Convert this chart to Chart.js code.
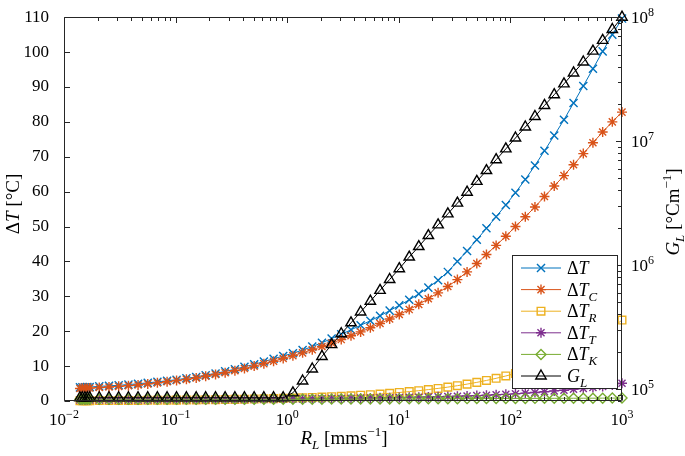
<!DOCTYPE html>
<html>
<head>
<meta charset="utf-8">
<script src="https://cdn.jsdelivr.net/npm/chart.js@4.4.1/dist/chart.umd.min.js"></script>
<style>
  html, body { margin: 0; padding: 0; background: #fff; }
  #wrap { width: 685px; height: 456px; }
</style>
</head>
<body>
<div id="wrap"><canvas id="myChart" width="685" height="456"></canvas></div>
<script>
// R_L [mm/s]
const rL = [0.0139, 0.0146, 0.0154, 0.0162, 0.0170, 0.0207, 0.0253, 0.0309, 0.0378, 0.0461,
  0.0563, 0.0687, 0.0839, 0.102, 0.125, 0.153, 0.186, 0.228, 0.278, 0.340,
  0.414, 0.506, 0.618, 0.755, 0.921, 1.125, 1.374, 1.677, 2.048, 2.50,
  3.05, 3.73, 4.55, 5.56, 6.79, 8.28, 10.1, 12.4, 15.1, 18.4,
  22.5, 27.5, 33.5, 40.9, 50.0, 61.0, 74.5, 91.0, 111, 136,
  166, 202, 247, 302, 368, 450, 549, 671, 819, 1000];

const dT = [3.9, 3.92, 3.95, 3.98, 4.0, 4.2, 4.35, 4.5, 4.7, 4.95,
  5.2, 5.5, 5.8, 6.1, 6.5, 6.9, 7.4, 7.9, 8.5, 9.1,
  9.8, 10.5, 11.3, 12.1, 12.9, 13.7, 14.6, 15.6, 16.7, 17.9,
  19.1, 20.4, 21.7, 23.0, 24.4, 25.9, 27.4, 29.0, 30.7, 32.5,
  34.6, 37.0, 40.0, 43.0, 46.2, 49.5, 52.8, 56.2, 59.7, 63.5,
  67.5, 71.7, 76.1, 80.6, 85.4, 90.3, 95.2, 100.2, 105.0, 109.6];

const dTC = [3.6, 3.62, 3.64, 3.67, 3.7, 3.85, 4.0, 4.2, 4.4, 4.6,
  4.9, 5.2, 5.5, 5.85, 6.2, 6.6, 7.1, 7.6, 8.1, 8.7,
  9.3, 10.0, 10.7, 11.4, 12.2, 13.0, 13.8, 14.7, 15.6, 16.6,
  17.6, 18.7, 19.8, 21.0, 22.2, 23.5, 24.8, 26.2, 27.7, 29.3,
  31.0, 32.8, 34.8, 37.0, 39.4, 42.0, 44.6, 47.2, 50.0, 52.8,
  55.6, 58.6, 61.6, 64.6, 67.7, 70.9, 74.0, 77.1, 80.0, 82.8];

const dTR = [0.096, 0.099, 0.101, 0.104, 0.106, 0.117, 0.129, 0.142, 0.157, 0.173,
  0.191, 0.211, 0.232, 0.256, 0.283, 0.312, 0.344, 0.379, 0.418, 0.461,
  0.509, 0.561, 0.619, 0.683, 0.753, 0.83, 0.92, 1.01, 1.11, 1.23,
  1.35, 1.49, 1.65, 1.82, 2.0, 2.21, 2.44, 2.69, 2.96, 3.27,
  3.61, 3.98, 4.39, 4.84, 5.34, 5.89, 6.5, 7.17, 7.9, 8.7,
  9.6, 10.6, 11.7, 12.9, 14.2, 15.7, 17.3, 19.1, 21.0, 23.2];

const dTT = [0.3, 0.3, 0.3, 0.3, 0.3, 0.31, 0.31, 0.32, 0.32, 0.33,
  0.33, 0.34, 0.35, 0.36, 0.37, 0.38, 0.39, 0.40, 0.42, 0.44,
  0.46, 0.48, 0.5, 0.52, 0.55, 0.58, 0.61, 0.64, 0.67, 0.7,
  0.74, 0.78, 0.82, 0.86, 0.9, 0.95, 1.0, 1.05, 1.1, 1.15,
  1.2, 1.28, 1.36, 1.45, 1.55, 1.66, 1.78, 1.9, 2.05, 2.25,
  2.45, 2.65, 2.9, 3.1, 3.35, 3.6, 3.85, 4.15, 4.55, 5.1];

const dTK = [0.5, 0.5, 0.5, 0.5, 0.5, 0.5, 0.5, 0.5, 0.5, 0.5,
  0.5, 0.5, 0.5, 0.5, 0.5, 0.5, 0.5, 0.5, 0.5, 0.5,
  0.5, 0.5, 0.5, 0.5, 0.5, 0.5, 0.51, 0.52, 0.53, 0.54,
  0.55, 0.56, 0.57, 0.58, 0.6, 0.6, 0.61, 0.62, 0.63, 0.64,
  0.65, 0.66, 0.67, 0.68, 0.69, 0.7, 0.71, 0.72, 0.73, 0.74,
  0.75, 0.76, 0.77, 0.78, 0.79, 0.8, 0.81, 0.82, 0.83, 0.84];

// G_L [degC/m], right axis
const gL = [8.5e4, 8.5e4, 8.5e4, 8.5e4, 8.5e4, 8.5e4, 8.5e4, 8.5e4, 8.5e4, 8.5e4,
  8.5e4, 8.5e4, 8.5e4, 8.5e4, 8.5e4, 8.5e4, 8.5e4, 8.5e4, 8.5e4, 8.5e4,
  8.5e4, 8.5e4, 8.5e4, 8.5e4, 8.5e4, 9.31e4, 1.16e5, 1.45e5, 1.83e5, 2.28e5,
  2.79e5, 3.42e5, 4.18e5, 5.11e5, 6.25e5, 7.65e5, 9.35e5, 1.16e6, 1.41e6, 1.73e6,
  2.11e6, 2.59e6, 3.16e6, 3.87e6, 4.73e6, 5.79e6, 7.08e6, 8.66e6, 1.06e7, 1.30e7,
  1.58e7, 1.94e7, 2.37e7, 2.90e7, 3.55e7, 4.35e7, 5.32e7, 6.50e7, 7.96e7, 1.0e8];

const xTicks = [-2, -1, 0, 1, 2, 3];
const y2Ticks = [5, 6, 7, 8];

const serif = "'Liberation Serif', 'DejaVu Serif', serif";
const blue = '#0072BD', orange = '#D95319', yellow = '#EDB120',
      purple = '#7E2F8E', green = '#77AC30', black = '#000000';
const axisColor = '#262626';

function pts(arr) {
  return rL.map(function(x, i) { return { x: x, y: arr[i] }; });
}

const series = [
  { parts: [{t: 'Δ'}, {t: 'T', i: 1}], data: dT, color: blue, style: 'crossRot', r: 5.7, axis: 'y' },
  { parts: [{t: 'Δ'}, {t: 'T', i: 1}, {t: 'C', i: 1, s: 'sub'}], data: dTC, color: orange, style: 'star', r: 5, axis: 'y' },
  { parts: [{t: 'Δ'}, {t: 'T', i: 1}, {t: 'R', i: 1, s: 'sub'}], data: dTR, color: yellow, style: 'rect', r: 5.4, axis: 'y' },
  { parts: [{t: 'Δ'}, {t: 'T', i: 1}, {t: 'T', i: 1, s: 'sub'}], data: dTT, color: purple, style: 'star', r: 5, axis: 'y' },
  { parts: [{t: 'Δ'}, {t: 'T', i: 1}, {t: 'K', i: 1, s: 'sub'}], data: dTK, color: green, style: 'rectRot', r: 5, axis: 'y' },
  { parts: [{t: 'G', i: 1}, {t: 'L', i: 1, s: 'sub'}], data: gL, color: black, style: 'triangle', r: 6, axis: 'y2' }
];

function fontFor(p, size) {
  const s = p.s ? Math.round(size * 0.7) : size;
  return (p.i ? 'italic ' : '') + s + 'px ' + serif;
}
function richWidth(ctx, parts, size) {
  let w = 0;
  parts.forEach(function(p) { ctx.font = fontFor(p, size); w += ctx.measureText(p.t).width; });
  return w;
}
function drawRich(ctx, parts, x, y, size) {
  parts.forEach(function(p) {
    ctx.font = fontFor(p, size);
    let dy = 0;
    if (p.s === 'sub') dy = size * 0.28;
    if (p.s === 'sup') dy = -size * 0.42;
    ctx.fillText(p.t, x, y + dy);
    x += ctx.measureText(p.t).width;
  });
}
function powParts(e) {
  return [{t: '10'}, {t: (e < 0 ? '−' + (-e) : '' + e), s: 'sup'}];
}

const decor = {
  id: 'decor',
  afterDraw: function(chart) {
    const ctx = chart.ctx;
    const a = chart.chartArea;
    const xs = chart.scales.x, yl = chart.scales.y, yr = chart.scales.y2;
    const L = Math.round(a.left) + 0.5, R = Math.round(a.right) - 0.5;
    const T = Math.round(a.top) + 0.5, B = Math.round(a.bottom) - 0.5;
    ctx.save();
    ctx.strokeStyle = axisColor;
    ctx.lineWidth = 1;
    ctx.beginPath();
    ctx.rect(L, T, R - L, B - T);
    ctx.stroke();

    // ticks, pointing inward
    ctx.beginPath();
    xTicks.forEach(function(e) {
      for (let m = 1; m <= 9; m++) {
        if (e === 3 && m > 1) break;
        const px = Math.round(xs.getPixelForValue(m * Math.pow(10, e))) + 0.5;
        const len = m === 1 ? 5.5 : 3.5;
        ctx.moveTo(px, B); ctx.lineTo(px, B - len);
        ctx.moveTo(px, T); ctx.lineTo(px, T + len);
      }
    });
    for (let v = 0; v <= 110; v += 10) {
      const py = Math.round(yl.getPixelForValue(v)) + 0.5;
      ctx.moveTo(L, py); ctx.lineTo(L + 5.5, py);
    }
    [4, 5, 6, 7, 8].forEach(function(e) {
      for (let m = 1; m <= 9; m++) {
        const v = m * Math.pow(10, e);
        if (v < yr.min || v > yr.max) continue;
        const py = Math.round(yr.getPixelForValue(v)) + 0.5;
        const len = m === 1 ? 5.5 : 3.5;
        ctx.moveTo(R, py); ctx.lineTo(R - len, py);
      }
    });
    ctx.stroke();

    ctx.fillStyle = '#000';
    ctx.textBaseline = 'alphabetic';
    ctx.textAlign = 'left';
    // x tick labels
    xTicks.forEach(function(e) {
      const parts = powParts(e);
      const w = richWidth(ctx, parts, 17);
      const px = xs.getPixelForValue(Math.pow(10, e));
      drawRich(ctx, parts, px - w / 2, 425, 17);
    });
    // right tick labels
    y2Ticks.forEach(function(e) {
      const py = yr.getPixelForValue(Math.pow(10, e));
      drawRich(ctx, powParts(e), a.right + 9, py + 6, 17);
    });

    // axis titles
    const tLeft = [{t: 'Δ'}, {t: 'T', i: 1}, {t: ' [°C]'}];
    ctx.save();
    ctx.translate(19, 204);
    ctx.rotate(-Math.PI / 2);
    drawRich(ctx, tLeft, -richWidth(ctx, tLeft, 19) / 2, 0, 19);
    ctx.restore();

    const tBottom = [{t: 'R', i: 1}, {t: 'L', i: 1, s: 'sub'}, {t: ' [mms'}, {t: '−1', s: 'sup'}, {t: ']'}];
    drawRich(ctx, tBottom, 344 - richWidth(ctx, tBottom, 19) / 2, 444, 19);

    const tRight = [{t: 'G', i: 1}, {t: 'L', i: 1, s: 'sub'}, {t: ' [°Cm'}, {t: '−1', s: 'sup'}, {t: ']'}];
    ctx.save();
    ctx.translate(679, 212);
    ctx.rotate(-Math.PI / 2);
    drawRich(ctx, tRight, -richWidth(ctx, tRight, 19) / 2, 0, 19);
    ctx.restore();

    // legend
    const bx = 512.5, by = 255.5, bw = 105, bh = 133;
    ctx.fillStyle = '#fff';
    ctx.fillRect(bx, by, bw, bh);
    ctx.strokeStyle = axisColor;
    ctx.lineWidth = 1;
    ctx.strokeRect(bx, by, bw, bh);
    series.forEach(function(s, i) {
      const y = 268 + i * 21.6;
      ctx.strokeStyle = s.color;
      ctx.lineWidth = 1;
      ctx.beginPath();
      ctx.moveTo(521, y); ctx.lineTo(561, y);
      ctx.stroke();
      ctx.fillStyle = 'rgba(0,0,0,0)';
      ctx.lineWidth = 1.4;
      Chart.helpers.drawPoint(ctx, { pointStyle: s.style, radius: s.r, rotation: 0, borderWidth: 1.4 }, 541, y);
      ctx.fillStyle = '#000';
      drawRich(ctx, s.parts, 567, y + 6, 18);
    });
    ctx.restore();
  }
};

const ctx = document.getElementById('myChart');

new Chart(ctx, {
  type: 'line',
  data: {
    datasets: series.map(function(s, i) {
      return {
        data: pts(s.data),
        yAxisID: s.axis,
        borderColor: s.color,
        borderWidth: 1,
        pointStyle: s.style,
        pointRadius: s.r,
        pointBorderColor: s.color,
        pointBackgroundColor: 'rgba(0,0,0,0)',
        pointBorderWidth: 1.4,
        tension: 0,
        clip: false,
        order: 6 - i
      };
    })
  },
  options: {
    responsive: false,
    animation: false,
    devicePixelRatio: 1,
    layout: { padding: { top: 11, left: 0, right: 0, bottom: 0 } },
    plugins: {
      legend: { display: false },
      tooltip: { enabled: false }
    },
    scales: {
      x: {
        type: 'logarithmic',
        min: 0.01,
        max: 1000,
        ticks: { display: false },
        grid: { display: false },
        border: { display: false },
        afterFit: function(scale) { scale.height = 55; }
      },
      y: {
        type: 'linear',
        position: 'left',
        min: 0,
        max: 110,
        ticks: {
          stepSize: 10,
          color: '#000',
          padding: 7,
          font: { family: serif, size: 17 }
        },
        grid: { display: false },
        border: { display: false },
        afterFit: function(scale) { scale.width = 64; }
      },
      y2: {
        type: 'logarithmic',
        position: 'right',
        min: 8e4,
        max: 1e8,
        ticks: { display: false },
        grid: { display: false },
        border: { display: false },
        afterFit: function(scale) { scale.width = 63; }
      }
    }
  },
  plugins: [decor]
});
</script>
</body>
</html>
